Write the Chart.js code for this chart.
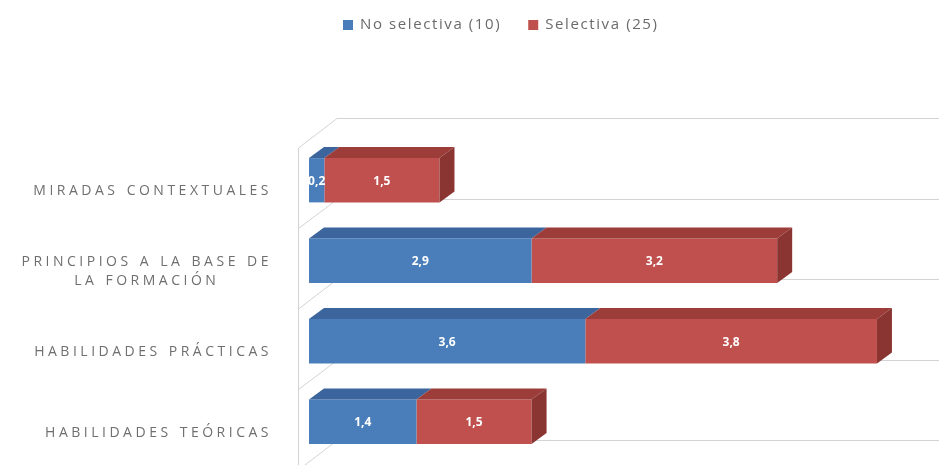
<!DOCTYPE html>
<html>
<head>
<meta charset="utf-8">
<script src="https://cdn.jsdelivr.net/npm/chart.js@4/dist/chart.umd.min.js"></script>
<style>
    html, body { margin: 0; padding: 0; background: #ffffff; }
    #contenedor { width: 939px; height: 465px; }
</style>
</head>
<body>
<div id="contenedor">
    <canvas id="grafico" width="939" height="465"></canvas>
</div>
<script>
// Datos del grafico
const categorias = ['MIRADAS CONTEXTUALES', ['PRINCIPIOS A LA BASE DE', 'LA FORMACIÓN'], 'HABILIDADES PRÁCTICAS', 'HABILIDADES TEÓRICAS'];
const series = ['No selectiva (10)', 'Selectiva (25)'];
const noSelectiva = [0.2, 2.9, 3.6, 1.4];
const selectiva = [1.5, 3.2, 3.8, 1.5];

// Colores de cada serie: cara frontal, superior y lateral
const colores = [
    { frente: '#4a7ebb', arriba: '#3b659c', lado: '#33598a' },
    { frente: '#c0504d', arriba: '#9c3d3a', lado: '#8a3532' }
];

// Desplazamiento de la profundidad de las barras y de las paredes
const prof = { dx: 15, dy: -11 };
const paredFrente = { dx: -11, dy: 8 };
const paredFondo = { dx: 28, dy: -22 };

function formato(v) {
    return v.toFixed(1).replace('.', ',');
}

//Paredes y lineas de division entre categorias
const paredes = {
    id: 'paredes',
    beforeDatasetsDraw(chart) {
        const ctx = chart.ctx;
        const a = chart.chartArea;
        const y = chart.scales.y;
        const paso = y.getPixelForValue(1) - y.getPixelForValue(0);
        const inicio = y.getPixelForValue(0) - paso / 2;

        ctx.save();
        ctx.strokeStyle = '#d3d3d3';
        ctx.lineWidth = 1;
        const xf = Math.round(a.left + paredFrente.dx) + 0.5;
        ctx.beginPath();
        ctx.moveTo(xf, inicio + paredFrente.dy);
        ctx.lineTo(xf, chart.height);
        ctx.stroke();

        for (let i = 0; i <= categorias.length; i++) {
            const b = inicio + i * paso;
            const yb = Math.round(b + paredFondo.dy) + 0.5;
            ctx.beginPath();
            ctx.moveTo(xf, b + paredFrente.dy);
            ctx.lineTo(a.left + paredFondo.dx, yb);
            ctx.lineTo(chart.width, yb);
            ctx.stroke();
        }
        ctx.restore();
    }
};

//Caras superior y lateral de las barras (la lateral solo al final de cada pila)
const caras3d = {
    id: 'caras3d',
    afterDatasetsDraw(chart) {
        const ctx = chart.ctx;
        const ultimo = chart.data.datasets.length - 1;
        ctx.save();
        chart.data.datasets.forEach(function (ds, d) {
            const c = colores[d];
            chart.getDatasetMeta(d).data.forEach(function (barra) {
                const p = barra.getProps(['x', 'y', 'base', 'height'], true);
                const izq = Math.min(p.base, p.x);
                const der = Math.max(p.base, p.x);
                const arriba = p.y - p.height / 2;
                const abajo = p.y + p.height / 2;

                ctx.fillStyle = c.arriba;
                ctx.beginPath();
                ctx.moveTo(izq, arriba);
                ctx.lineTo(izq + prof.dx, arriba + prof.dy);
                ctx.lineTo(der + prof.dx, arriba + prof.dy);
                ctx.lineTo(der, arriba);
                ctx.closePath();
                ctx.fill();

                if (d === ultimo) {
                    ctx.fillStyle = c.lado;
                    ctx.beginPath();
                    ctx.moveTo(der, arriba);
                    ctx.lineTo(der + prof.dx, arriba + prof.dy);
                    ctx.lineTo(der + prof.dx, abajo + prof.dy);
                    ctx.lineTo(der, abajo);
                    ctx.closePath();
                    ctx.fill();
                }
            });
        });
        ctx.restore();
    }
};

//Valores sobre las barras, etiquetas de categoria y leyenda
const textos = {
    id: 'textos',
    afterDraw(chart) {
        const ctx = chart.ctx;
        const a = chart.chartArea;
        const y = chart.scales.y;
        ctx.save();

        // valores
        ctx.fillStyle = '#ffffff';
        ctx.font = 'bold 12px "Open Sans"';
        ctx.textAlign = 'center';
        ctx.textBaseline = 'middle';
        chart.data.datasets.forEach(function (ds, d) {
            chart.getDatasetMeta(d).data.forEach(function (barra, i) {
                const p = barra.getProps(['x', 'y', 'base'], true);
                ctx.fillText(formato(ds.data[i]), (p.x + p.base) / 2, p.y + 1);
            });
        });

        // categorias
        ctx.fillStyle = '#6f6f6f';
        ctx.font = '14px "Open Sans"';
        ctx.letterSpacing = '3.5px';
        ctx.wordSpacing = '1px';
        const derecha = a.left - 37;
        categorias.forEach(function (cat, i) {
            const lineas = Array.isArray(cat) ? cat : [cat];
            const ancho = Math.max.apply(null, lineas.map(l => ctx.measureText(l).width));
            const centro = y.getPixelForValue(i) + 11;
            const alto = 19;
            lineas.forEach(function (l, k) {
                ctx.fillText(l, derecha - ancho / 2, centro + (k - (lineas.length - 1) / 2) * alto);
            });
        });
        ctx.wordSpacing = '0px';

        // leyenda
        ctx.font = '15px "Open Sans"';
        ctx.letterSpacing = '1.6px';
        ctx.textAlign = 'left';
        const anchos = series.map(s => ctx.measureText(s).width);
        let x = 343;
        series.forEach(function (s, i) {
            ctx.fillStyle = colores[i].frente;
            ctx.fillRect(x, 20, 10, 10);
            ctx.fillStyle = '#6a6a6a';
            ctx.fillText(s, x + 17, 25);
            x += anchos[i] + 17 + 27;
        });
        ctx.restore();
    }
};

new Chart(document.getElementById('grafico'), {
    type: 'bar',
    data: {
        labels: categorias,
        datasets: [{
            label: series[0],
            data: noSelectiva,
            backgroundColor: colores[0].frente
        }, {
            label: series[1],
            data: selectiva,
            backgroundColor: colores[1].frente
        }]
    },
    options: {
        indexAxis: 'y',
        responsive: false,
        animation: false,
        barPercentage: 0.55,
        categoryPercentage: 1,
        layout: {
            padding: { left: 309, top: 140, right: 16, bottom: 3 }
        },
        scales: {
            x: { stacked: true, min: 0, max: 8, display: false },
            y: { stacked: true, display: false }
        },
        plugins: {
            legend: { display: false },
            tooltip: { enabled: false }
        }
    },
    plugins: [paredes, caras3d, textos]
});
</script>
</body>
</html>
